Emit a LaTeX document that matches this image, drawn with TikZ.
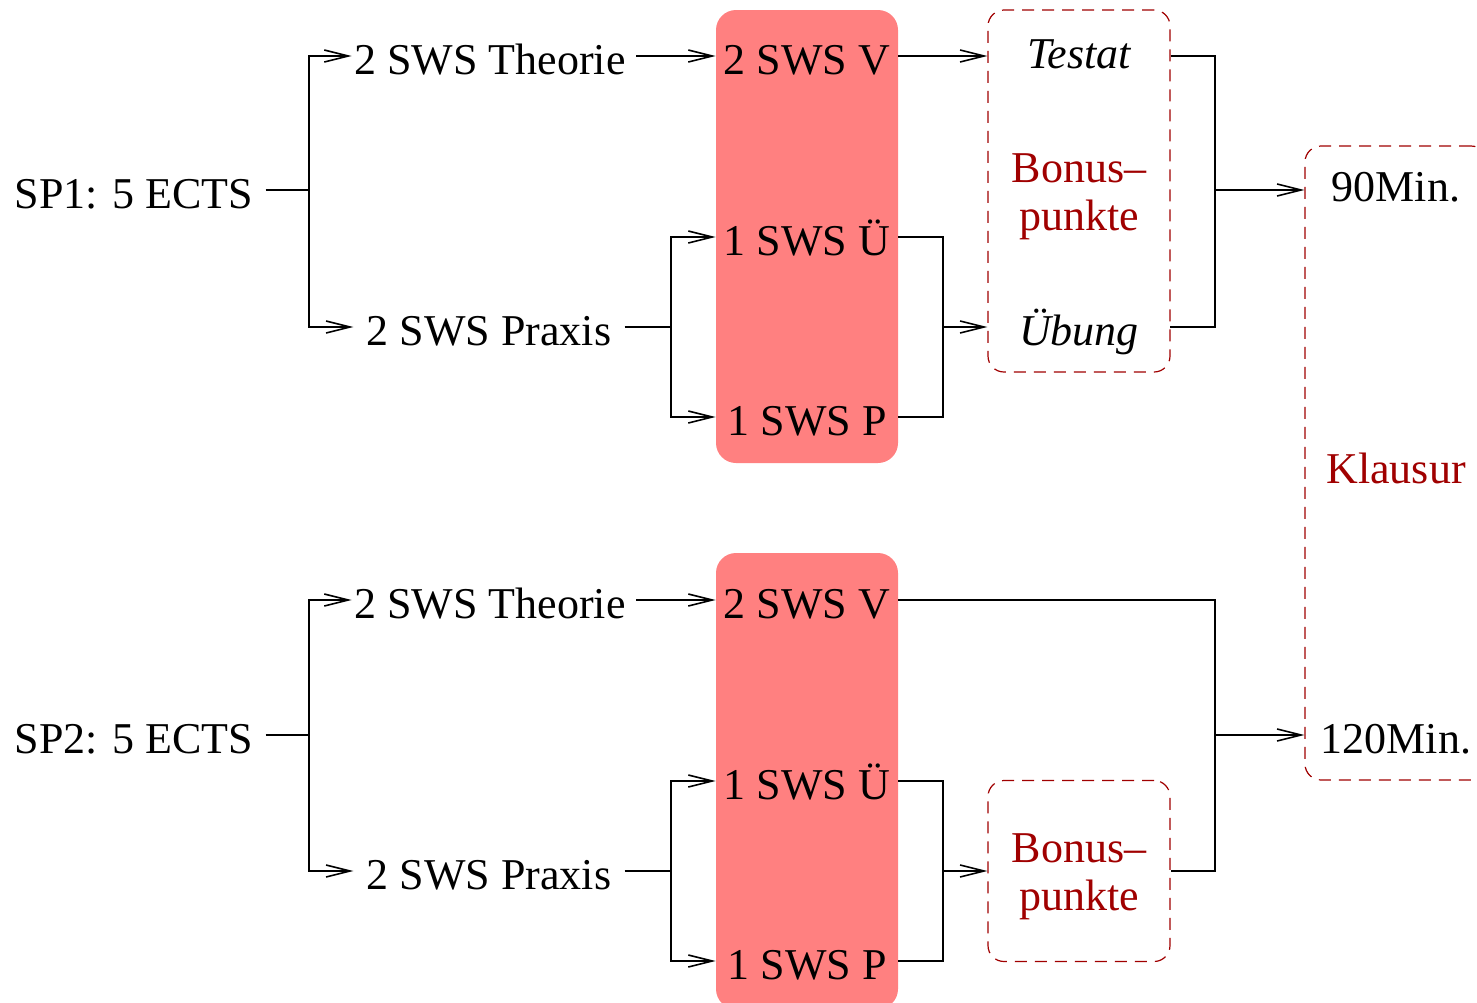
\documentclass[tikz,border=0pt]{standalone}
\usepackage{fontspec}
\setmainfont{Liberation Serif}
\usetikzlibrary{arrows.meta}
\definecolor{boxred}{RGB}{255,128,128}
\definecolor{darkred}{RGB}{160,0,0}
\begin{document}
\begin{tikzpicture}[x=0.5pt,y=-0.5pt,
  every node/.style={font=\fontsize{22}{24}\selectfont},
  txt/.style={inner sep=0pt, text height=20pt, text depth=2pt},
  wide/.style={txt, minimum width=91pt},
  itfont/.style={font=\fontsize{22}{24}\selectfont\itshape},
  redtext/.style={text=darkred},
  line/.style={line width=0.8pt},
  arr/.style={line, -{Straight Barb[length=12pt,width=6pt]}},
  redbox/.style={fill=boxred, rounded corners=10pt, minimum width=91pt, inner sep=0pt},
  dbox/.style={draw=darkred, dash pattern=on 6pt off 4pt, line width=0.6pt,
               rounded corners=8pt, minimum width=91pt, inner sep=0pt}
]
\useasboundingbox (0,0) rectangle (1477,1002);
\clip (0,0) rectangle (1477,1002);

% red boxes
\node[redbox, minimum height=226.5pt] (r1) at (807,236.5) {};
\node[redbox, minimum height=228pt] (r2) at (807,781) {};

% dashed boxes
\node[dbox, minimum height=181pt] (d1) at (1079,191) {};
\node[dbox, minimum height=317pt] (d2) at (1396,463) {};
\node[dbox, minimum height=90.5pt] (d3) at (1079,871) {};

% ---------- group 1 ----------
\node[txt, inner xsep=6pt] (sp1) at (134,190) {SP1: 5 ECTS};
\node[txt, minimum width=138pt] (th1) at (490,56) {2 SWS Theorie};
\node[txt, inner xsep=6.5pt] (pr1) at (489,327) {2 SWS Praxis};
\node[wide] (v1) at (807,56) {2 SWS V};
\node[wide] (u1) at (807,237) {1 SWS Ü};
\node[wide] (p1) at (807,417) {1 SWS P};
\node[wide, itfont] (te1) at (1079,50) {Testat};
\node[inner sep=0pt, align=center, redtext] (bo1) at (1079,197) {Bonus–\\punkte};
\node[wide, itfont] (ue1) at (1079,327) {Übung};
\node[wide] (m90) at (1396,183) {90Min.};
\node[wide, redtext] (kl) at (1396,465) {Klausur};
\node[wide] (m120) at (1396,735) {120Min.};

\coordinate (b1) at (309,190);
\coordinate (b2) at (671,327);
\coordinate (b3) at (943,327);
\coordinate (b4) at (1215,190);

\draw[line] (sp1.east) -- (b1);
\draw[arr] (b1) |- (th1.west);
\draw[arr] (b1) |- (pr1.west);
\draw[arr] ([xshift=4pt]th1.east) -- (v1.west);
\draw[line] (pr1.east) -- (b2);
\draw[arr] (b2) |- (u1.west);
\draw[arr] (b2) |- (p1.west);
\draw[arr] (v1.east) -- (v1.east -| d1.west);
\draw[line] (u1.east) -| (b3) |- (p1.east);
\draw[arr] (b3) -- (b3 -| d1.west);
\draw[line] (v1.east -| d1.east) -| (b4) |- (ue1.east);
\draw[arr] (b4) -- (b4 -| d2.west);

% ---------- group 2 ----------
\node[txt, inner xsep=6pt] (sp2) at (134,735) {SP2: 5 ECTS};
\node[txt, minimum width=138pt] (th2) at (490,600) {2 SWS Theorie};
\node[txt, inner xsep=6.5pt] (pr2) at (489,871) {2 SWS Praxis};
\node[wide] (v2) at (807,600) {2 SWS V};
\node[wide] (u2) at (807,781) {1 SWS Ü};
\node[wide] (p2) at (807,961) {1 SWS P};
\node[inner sep=0pt, align=center, redtext] (bo2) at (1079,877) {Bonus–\\punkte};

\coordinate (b5) at (309,735);
\coordinate (b6) at (671,871);
\coordinate (b7) at (943,871);
\coordinate (b8) at (1215,735);

\draw[line] (sp2.east) -- (b5);
\draw[arr] (b5) |- (th2.west);
\draw[arr] (b5) |- (pr2.west);
\draw[arr] ([xshift=4pt]th2.east) -- (v2.west);
\draw[line] (pr2.east) -- (b6);
\draw[arr] (b6) |- (u2.west);
\draw[arr] (b6) |- (p2.west);
\draw[line] (u2.east) -| (b7) |- (p2.east);
\draw[arr] (b7) -- (d3.west);
\draw[line] (v2.east) -| (b8) |- (d3.east);
\draw[arr] (b8) -- (b8 -| d2.west);
\end{tikzpicture}
\end{document}
